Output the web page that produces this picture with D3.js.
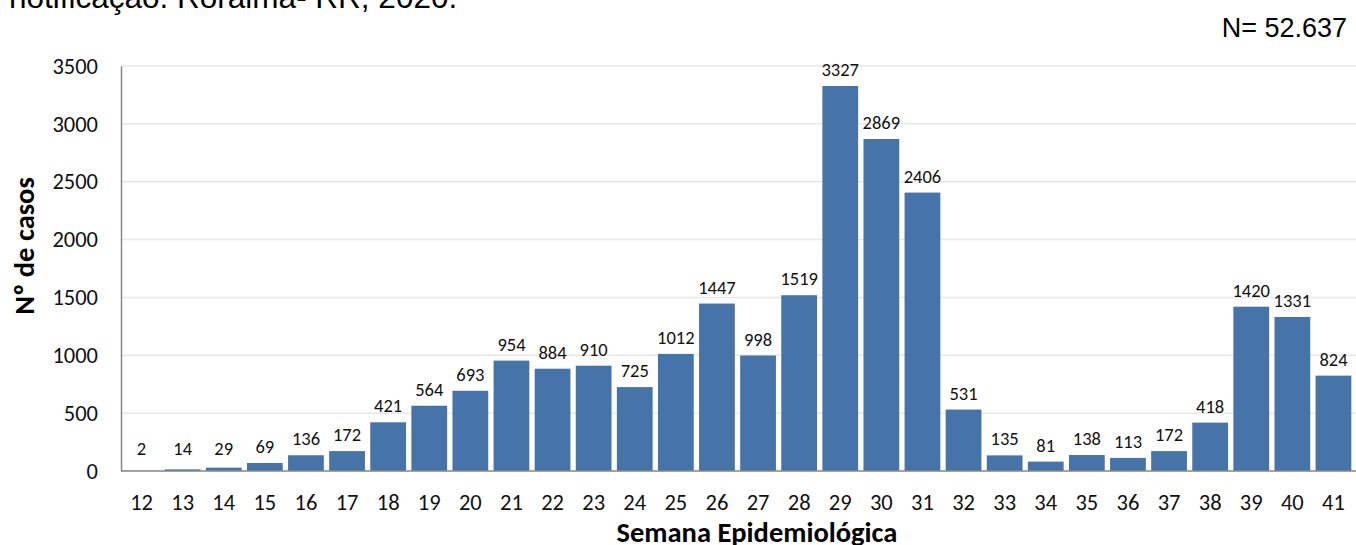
<!DOCTYPE html>
<html>
<head>
<meta charset="utf-8">
<script src="https://cdn.jsdelivr.net/npm/d3@7"></script>
<style>
  html, body { margin: 0; padding: 0; background: #fff; }
  svg { display: block; }
</style>
</head>
<body>
<svg id="chart" width="1356" height="545"></svg>
<script>
const weeks = [12,13,14,15,16,17,18,19,20,21,22,23,24,25,26,27,28,29,30,31,32,33,34,35,36,37,38,39,40,41];
const cases = [2,14,29,69,136,172,421,564,693,954,884,910,725,1012,1447,998,1519,3327,2869,2406,531,135,81,138,113,172,418,1420,1331,824];
const yTicks = [0,500,1000,1500,2000,2500,3000,3500];
const titleText = "notificação. Roraima- RR, 2020.";
const totalText = "N= 52.637";
const xTitle = "Semana Epidemiológica";
const yTitle = "Nº de casos";

const svg = d3.select("#chart");

const x = d3.scaleBand().domain(weeks).range([121, 1354]).paddingInner(0.13).paddingOuter(0.065);
const y = d3.scaleLinear().domain([0, 3500]).range([471, 66]);

const labelFont = "Carlito, Calibri, 'Open Sans', 'Liberation Sans', sans-serif";

// gridlines
svg.append("g").selectAll("line").data(yTicks.filter(d => d > 0)).join("line")
  .attr("x1", 121).attr("x2", 1356)
  .attr("y1", d => y(d)).attr("y2", d => y(d))
  .attr("stroke", "#e8e8e8").attr("stroke-width", 1.5);

// bars
svg.append("g").selectAll("rect").data(weeks).join("rect")
  .attr("x", (d) => x(d))
  .attr("width", x.bandwidth())
  .attr("y", (d, i) => y(cases[i]))
  .attr("height", (d, i) => y(0) - y(cases[i]))
  .attr("fill", "#4673a8");

// data labels
svg.append("g").selectAll("text").data(weeks).join("text")
  .attr("x", d => x(d) + x.bandwidth() / 2)
  .attr("y", (d, i) => Math.min(y(cases[i]) - 10, y(0) - 16))
  .attr("text-anchor", "middle")
  .attr("font-family", labelFont)
  .attr("font-size", 18.5)
  .attr("fill", "#111")
  .text((d, i) => cases[i]);

// y axis
const yAxis = d3.axisLeft(y).tickValues(yTicks).tickFormat(d3.format("d")).tickSize(0).tickPadding(23);
const gy = svg.append("g").attr("transform", "translate(121,0)").call(yAxis);
gy.select(".domain").attr("stroke", "#868686").attr("stroke-width", 1.5);
gy.selectAll("text").attr("font-family", labelFont).attr("font-size", 22.5).attr("fill", "#111");

// x axis
const xAxis = d3.axisBottom(x).tickSize(0).tickPadding(23);
const gx = svg.append("g").attr("transform", "translate(0,471)").call(xAxis);
gx.select(".domain").attr("stroke", "#868686").attr("stroke-width", 1.5).attr("d", "M121,0H1356");
gx.selectAll("text").attr("font-family", labelFont).attr("font-size", 22.5).attr("fill", "#111");

// axis titles
svg.append("text")
  .attr("x", 757).attr("y", 542)
  .attr("text-anchor", "middle")
  .attr("font-family", labelFont).attr("font-weight", "bold").attr("font-size", 28.5)
  .attr("fill", "#000").text(xTitle);

svg.append("text")
  .attr("transform", "translate(34,246) rotate(-90)")
  .attr("text-anchor", "middle")
  .attr("font-family", labelFont).attr("font-weight", "bold").attr("font-size", 28.5)
  .attr("fill", "#000").text(yTitle);

// top texts
svg.append("text")
  .attr("x", 1347).attr("y", 37)
  .attr("text-anchor", "end")
  .attr("font-family", "'Liberation Sans', Arial, sans-serif").attr("font-size", 27)
  .attr("fill", "#000").text(totalText);

svg.append("text")
  .attr("x", 9).attr("y", 8)
  .attr("font-family", "'Liberation Sans', Arial, sans-serif").attr("font-size", 31.5)
  .attr("fill", "#000").text(titleText);
</script>
</body>
</html>
